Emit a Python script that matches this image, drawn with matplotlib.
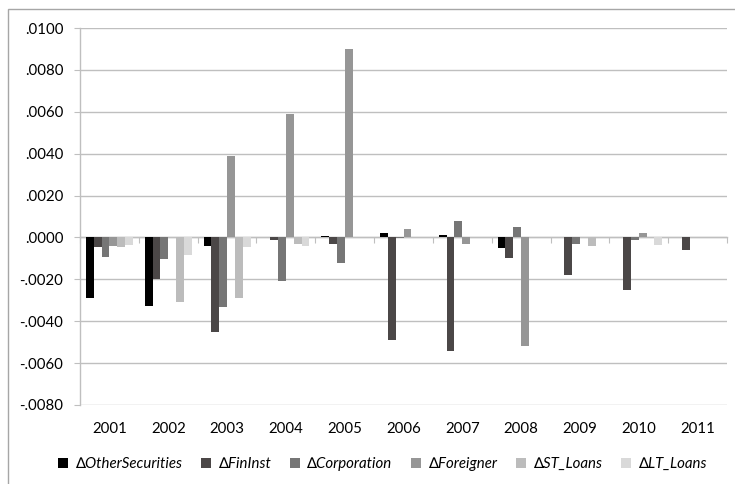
import matplotlib
matplotlib.use("Agg")
import matplotlib.pyplot as plt
import numpy as np
from matplotlib.patches import Rectangle
from matplotlib.ticker import FuncFormatter

years = ["2001", "2002", "2003", "2004", "2005", "2006", "2007", "2008", "2009", "2010", "2011"]
series_names = ["∆OtherSecurities", "∆FinInst", "∆Corporation", "∆Foreigner", "∆ST_Loans", "∆LT_Loans"]
other_securities = [-0.0029, -0.00325, -0.0004, 0.0, 0.00007, 0.0002, 0.0001, -0.0005, 0.0, 0.0, 0.0]
fin_inst = [-0.00044, -0.0020, -0.0045, -0.0001, -0.0003, -0.0049, -0.0054, -0.0010, -0.0018, -0.0025, -0.0006]
corporation = [-0.00095, -0.00101, -0.0033, -0.0021, -0.0012, -0.00005, 0.0008, 0.0005, -0.0003, -0.0001, 0.0]
foreigner = [-0.0004, 0.0, 0.0039, 0.0059, 0.0090, 0.0004, -0.0003, -0.0052, 0.0, 0.0002, 0.0]
st_loans = [-0.00044, -0.0031, -0.0029, -0.00032, 0.0, 0.0, 0.0, 0.0, -0.0004, 0.0, 0.0]
lt_loans = [-0.00035, -0.00084, -0.00044, -0.0004, 0.0, 0.0, 0.0, 0.0, 0.0, -0.00035, 0.0]

series = [other_securities, fin_inst, corporation, foreigner, st_loans, lt_loans]
colors = ["#000000", "#4b4747", "#767676", "#969696", "#bcbcbc", "#d9d9d9"]

plt.rcParams['font.family'] = ['Lato', 'DejaVu Sans']
GRID = "#bfbfbf"
FS = 10.8

fig = plt.figure(figsize=(7.35, 4.84), dpi=100)
ax = fig.add_axes([80/735, 1-405/484, (727-80)/735, (405-28)/484])

n = len(series)
w = 1/7.5
x = np.arange(len(years))
for i, (vals, c, name) in enumerate(zip(series, colors, series_names)):
    ax.bar(x + (i - (n-1)/2)*w, vals, width=w, color=c, label=name, zorder=3, linewidth=0)

ax.set_xlim(-0.5, len(years)-0.5)
ax.set_ylim(-0.008, 0.010)
ax.set_yticks(np.arange(-0.008, 0.0101, 0.002))

def fmt(v, pos):
    s = f"{v:.4f}"
    if abs(v) < 1e-12:
        return ".0000"
    return s.replace("0.", ".", 1)
ax.yaxis.set_major_formatter(FuncFormatter(fmt))
ax.yaxis.grid(True, color=GRID, linewidth=1.0, zorder=0)
ax.tick_params(axis='y', length=4, width=0.8, color=GRID, pad=8, labelsize=FS, labelcolor="#000000")

for s in ["top", "right"]:
    ax.spines[s].set_visible(False)
ax.spines["left"].set_color(GRID)
ax.spines["left"].set_linewidth(1.0)
ax.spines["bottom"].set_position(("data", 0))
ax.spines["bottom"].set_color(GRID)
ax.spines["bottom"].set_linewidth(1.0)
ax.spines["bottom"].set_zorder(2)
ax.set_xticks(np.arange(-0.5, len(years), 1.0))
ax.set_xticklabels([])
ax.tick_params(axis='x', length=4.5, width=0.8, color=GRID, direction="out")

sec = ax.secondary_xaxis(0.0)
sec.set_xticks(x)
sec.set_xticklabels(years)
sec.spines["bottom"].set_visible(False)
sec.tick_params(length=0, pad=12, labelsize=FS)

handles, labels = ax.get_legend_handles_labels()
leg = fig.legend(handles, labels, loc="center", bbox_to_anchor=(0.52, 1-464/484), ncol=6,
                 frameon=False, prop={'style': 'italic', 'size': FS},
                 handlelength=0.65, handleheight=0.65, handletextpad=0.45, columnspacing=1.3)

border = Rectangle((8/735, -0.2), 1.2, 1 - 9/484 + 0.2, transform=fig.transFigure,
                   fill=False, edgecolor="#a6a6a6", linewidth=1.0, clip_on=False)
fig.patches.append(border)

fig.savefig("out.png", dpi=100)
